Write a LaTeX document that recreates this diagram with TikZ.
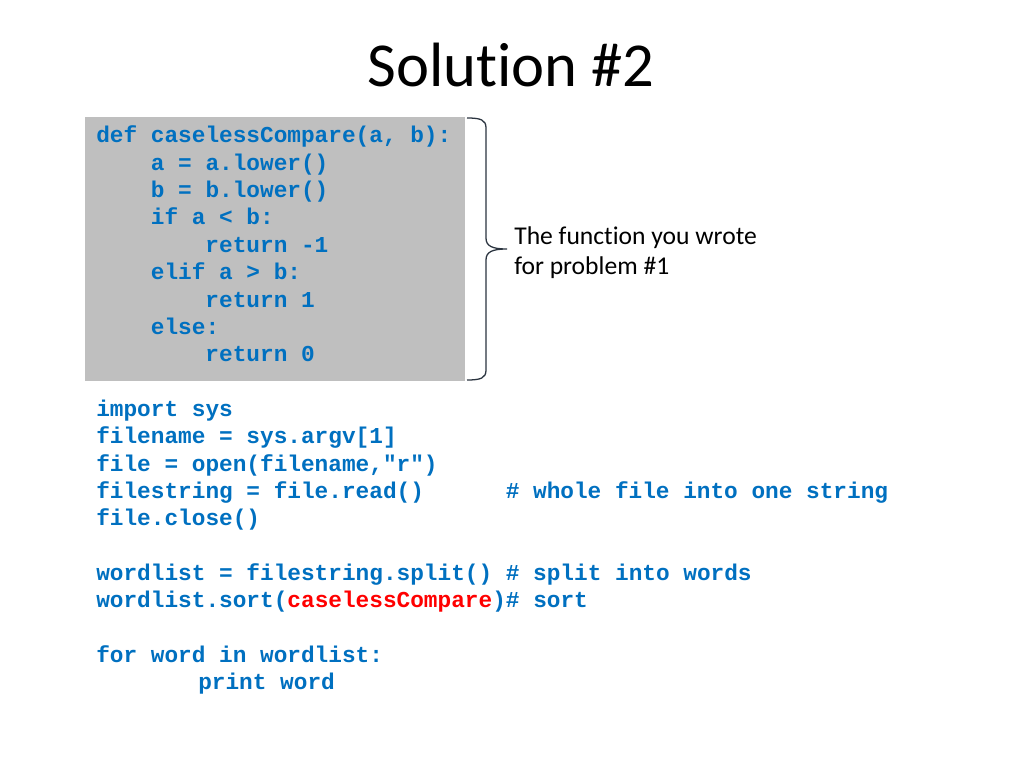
\documentclass[tikz,border=0pt]{standalone}
\usepackage{fontspec}
\setmainfont[Ligatures=NoCommon]{Carlito}
\newfontfamily\codefont{Liberation Mono}
\definecolor{codeblue}{HTML}{0070C0}
\definecolor{codered}{HTML}{FF0000}
\definecolor{boxgray}{HTML}{BFBFBF}
\definecolor{bracecol}{HTML}{2B3440}
\begin{document}
\begin{tikzpicture}[x=0.703125pt,y=-0.703125pt,
  code/.style={anchor=base west,inner sep=0pt,text=codeblue,font=\codefont\bfseries\fontsize{16}{19.2}\selectfont},
  note/.style={anchor=base west,inner sep=0pt,font=\fontsize{18}{21.6}\selectfont}]
\useasboundingbox[fill=white] (0,0) rectangle (1024,768);
\fill[boxgray] (85,117) rectangle (465,381);
\node[anchor=base,inner sep=0pt,font=\fontsize{44}{52}\selectfont] (title) at (511,87) {Solution \#2};
% brace
\draw[bracecol,line width=0.9pt] (467,118) .. controls (481,118) and (486,120) .. (486,128) -- (486,238)
  .. controls (486,246) and (492,249) .. (507,249)
  .. controls (492,249) and (486,252) .. (486,260) -- (486,370)
  .. controls (486,378) and (481,380) .. (467,380);
\node[note] (n1) at (514,245) {The function you wrote};
\node[note] (n2) at (514,275) {for problem \#1};
% code
\node[code] (c1) at (96,143) {def caselessCompare(a, b):};
\node[code] (c2) at (150.6,170.3) {a = a.lower()};
\node[code] (c3) at (150.6,197.6) {b = b.lower()};
\node[code] (c4) at (150.6,225) {if a < b:};
\node[code] (c5) at (205.2,252.3) {return -1};
\node[code] (c6) at (150.6,279.6) {elif a > b:};
\node[code] (c7) at (205.2,307) {return 1};
\node[code] (c8) at (150.6,334.3) {else:};
\node[code] (c9) at (205.2,361.6) {return 0};
\node[code] (d2) at (96,416.3) {import sys};
\node[code] (d3) at (96,443.6) {filename = sys.argv[1]};
\node[code] (d4) at (96,471) {file = open(filename,"r")};
\node[code] (d5) at (96,498.3) {filestring = file.read()};
\node[code] (d5c) at (505.5,498.3) {\# whole file into one string};
\node[code] (d6) at (96,525.6) {file.close()};
\node[code] (d7) at (96,580.3) {wordlist = filestring.split() \# split into words};
\node[code] (d8) at (96,607.6) {wordlist.sort(\textcolor{codered}{caselessCompare})\# sort};
\node[code] (d9) at (96,662.3) {for word in wordlist:};
\node[code] (d10) at (198,689.6) {print word};
\end{tikzpicture}
\end{document}
